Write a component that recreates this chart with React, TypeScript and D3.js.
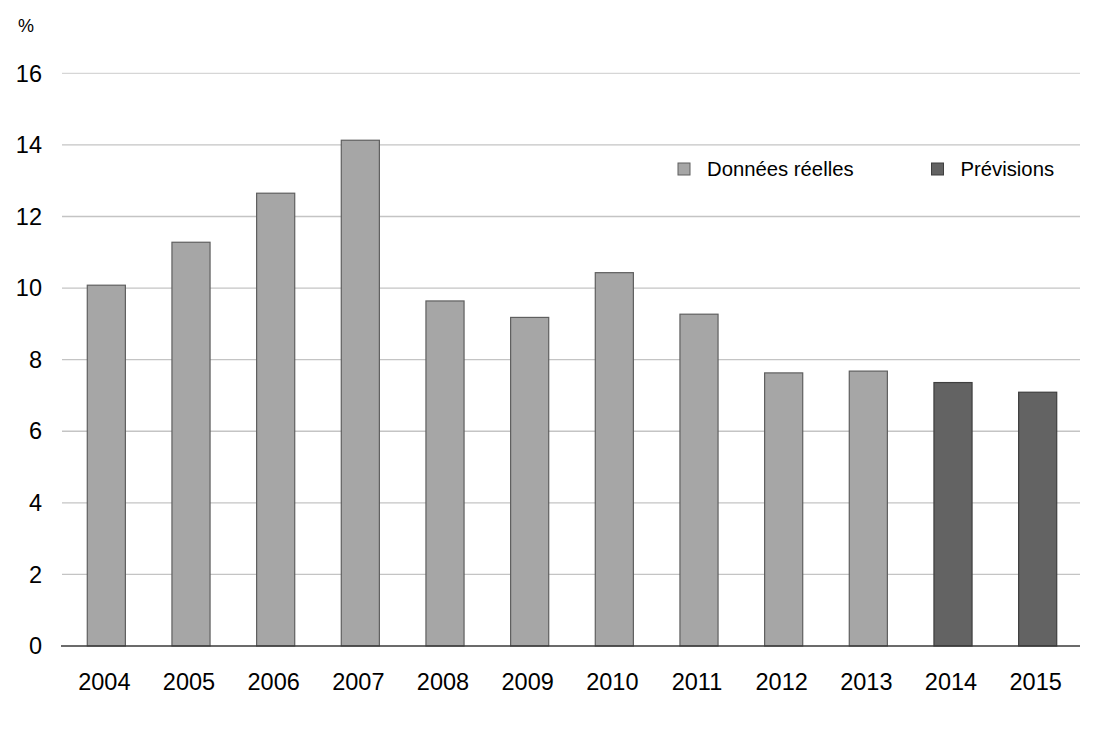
import React from "react";
import * as d3 from "d3";

const years = ["2004", "2005", "2006", "2007", "2008", "2009", "2010", "2011", "2012", "2013", "2014", "2015"];
const values = [10.08, 11.28, 12.65, 14.13, 9.64, 9.18, 10.43, 9.27, 7.63, 7.68, 7.36, 7.09];
const kinds = ["actual", "actual", "actual", "actual", "actual", "actual", "actual", "actual", "actual", "actual", "forecast", "forecast"];
const yTicks = [0, 2, 4, 6, 8, 10, 12, 14, 16];
const legendLabels = ["Données réelles", "Prévisions"];

const W = 1100;
const H = 733;
const FONT = "'Liberation Sans', Arial, sans-serif";

const fillFor: Record<string, string> = { actual: "#a6a6a6", forecast: "#636363" };
const strokeFor: Record<string, string> = { actual: "#5f5f5f", forecast: "#3f3f3f" };

export default function App() {
  const x = d3.scaleBand<string>().domain(years).range([64, 1080]).paddingInner(0.55).paddingOuter(0.275);
  const y = d3.scaleLinear().domain([0, 16]).range([646, 73.3]);

  return (
    <svg width={W} height={H} style={{ position: "absolute", left: 0, top: 0, background: "#fff" }} fontFamily={FONT}>
      <rect x={0} y={0} width={W} height={H} fill="#fff" />
      <text x={18} y={32} fontSize={18} fill="#000">%</text>
      {yTicks.map((t) => (
        <g key={t}>
          {t > 0 && (
            <line x1={62} x2={1080} y1={y(t)} y2={y(t)} stroke={t === 16 ? "#d6d6d6" : "#c4c4c4"} strokeWidth={1.3} />
          )}
          <text x={42} y={y(t)} dy="0.35em" textAnchor="end" fontSize={23.5} fill="#000">
            {t}
          </text>
        </g>
      ))}
      {years.map((yr, i) => (
        <rect
          key={yr}
          x={x(yr)}
          y={y(values[i])}
          width={x.bandwidth()}
          height={y(0) - y(values[i])}
          fill={fillFor[kinds[i]]}
          stroke={strokeFor[kinds[i]]}
          strokeWidth={1.2}
        />
      ))}
      <line x1={61} x2={1080} y1={y(0)} y2={y(0)} stroke="#3a3a3a" strokeWidth={1.6} />
      {years.map((yr) => (
        <text key={yr} x={(x(yr) as number) + x.bandwidth() / 2 - 2} y={690} textAnchor="middle" fontSize={23.5} fill="#000">
          {yr}
        </text>
      ))}
      <g>
        <rect x={678} y={163} width={12} height={12} fill={fillFor.actual} stroke={strokeFor.actual} strokeWidth={1} />
        <text x={707} y={175.5} fontSize={20.3} fill="#000">{legendLabels[0]}</text>
        <rect x={931.5} y={163} width={12} height={12} fill={fillFor.forecast} stroke={strokeFor.forecast} strokeWidth={1} />
        <text x={960.5} y={175.5} fontSize={20.3} fill="#000">{legendLabels[1]}</text>
      </g>
    </svg>
  );
}
